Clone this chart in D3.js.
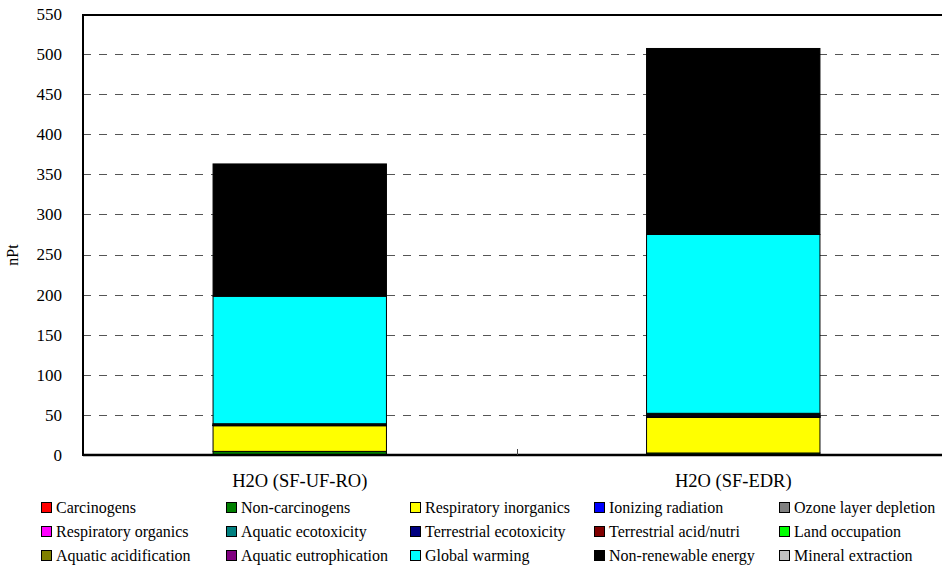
<!DOCTYPE html>
<html>
<head>
<meta charset="utf-8">
<script src="https://cdn.jsdelivr.net/npm/d3@7"></script>
<style>
html,body{margin:0;padding:0;background:#fff;}
svg{display:block;}
svg text{font-family:"Liberation Serif","Times New Roman","DejaVu Serif",serif;}
</style>
</head>
<body>
<svg id="chart" width="942" height="568"></svg>
<script>
const categories = ["H2O (SF-UF-RO)", "H2O (SF-EDR)"];
const seriesNames = ["Carcinogens","Non-carcinogens","Respiratory inorganics","Ionizing radiation","Ozone layer depletion",
  "Respiratory organics","Aquatic ecotoxicity","Terrestrial ecotoxicity","Terrestrial acid/nutri","Land occupation",
  "Aquatic acidification","Aquatic eutrophication","Global warming","Non-renewable energy","Mineral extraction"];
const seriesColors = ["#FF0000","#008000","#FFFF00","#0000FF","#808080",
  "#FF00FF","#008080","#000080","#800000","#00FF00",
  "#808000","#800080","#00FFFF","#000000","#C0C0C0"];
// values per series: [SF-UF-RO, SF-EDR]
const carcinogens = [0.3, 0.5];
const nonCarcinogens = [4.2, 2.0];
const respInorganics = [32, 44.5];
const ionizing = [0.3, 0.4];
const ozone = [0.05, 0.05];
const respOrganics = [0.05, 0.05];
const aquaticEcotox = [0.2, 0.3];
const terrestrialEcotox = [0.8, 2.0];
const terrestrialAcid = [0.6, 1.2];
const landOccupation = [0.5, 1.0];
const aquaticAcid = [0, 0];
const aquaticEutroph = [0, 0];
const globalWarming = [159, 223];
const nonRenewable = [165, 232];
const mineral = [0, 0];
const yTicks = [0,50,100,150,200,250,300,350,400,450,500,550];

const seriesValues = [carcinogens, nonCarcinogens, respInorganics, ionizing, ozone, respOrganics, aquaticEcotox,
  terrestrialEcotox, terrestrialAcid, landOccupation, aquaticAcid, aquaticEutroph, globalWarming, nonRenewable, mineral];

const rows = categories.map((c, i) => {
  const r = {cat: c};
  seriesNames.forEach((s, j) => r[s] = seriesValues[j][i]);
  return r;
});

const FONT = "Liberation Serif, Times New Roman, serif";
const svg = d3.select("#chart");
const mLeft = 83, mTop = 14, mBottom = 455, mRight = 950;

const x = d3.scaleBand().domain(categories).range([mLeft, mRight]).paddingInner(0.6).paddingOuter(0.3);
const y = d3.scaleLinear().domain([0, 550]).range([mBottom, mTop]);

// gridlines
svg.append("g").selectAll("line").data(yTicks.filter(t => t > 0 && t < 550)).join("line")
  .attr("x1", mLeft).attr("x2", 942)
  .attr("y1", d => Math.round(y(d)) + 0.5).attr("y2", d => Math.round(y(d)) + 0.5)
  .attr("stroke", "#555").attr("stroke-width", 1.2).attr("stroke-dasharray", "8,8");

// stacked bars
const stack = d3.stack().keys(seriesNames);
const stacked = stack(rows);
const gBars = svg.append("g");
stacked.forEach((layer, j) => {
  gBars.selectAll(null).data(layer.filter(d => d[1] - d[0] > 0)).join("rect")
    .attr("x", d => x(d.data.cat))
    .attr("width", x.bandwidth())
    .attr("y", d => y(d[1]))
    .attr("height", d => y(d[0]) - y(d[1]))
    .attr("fill", seriesColors[j])
    .attr("stroke", "#000").attr("stroke-width", 1);
});

// frame: top line, left axis, bottom axis
svg.append("line").attr("x1", mLeft).attr("x2", 942).attr("y1", mTop + 1).attr("y2", mTop + 1)
  .attr("stroke", "#000").attr("stroke-width", 2);
svg.append("line").attr("x1", mLeft).attr("x2", mLeft).attr("y1", mTop).attr("y2", mBottom + 1)
  .attr("stroke", "#000").attr("stroke-width", 2);

const xAxis = d3.axisBottom(x).tickSize(0).tickPadding(19);
const gx = svg.append("g").attr("transform", `translate(0,${mBottom})`).call(xAxis);
gx.attr("font-family", FONT);
gx.select(".domain").remove();
gx.selectAll("text").attr("font-family", FONT).attr("font-size", 18.5).attr("fill", "#000");
svg.append("line").attr("x1", mLeft).attr("x2", 942).attr("y1", mBottom).attr("y2", mBottom)
  .attr("stroke", "#000").attr("stroke-width", 2.5);
// category separator tick
const sep = (x(categories[0]) + x.bandwidth() + x(categories[1])) / 2;
svg.append("line").attr("x1", Math.round(sep) + 0.5).attr("x2", Math.round(sep) + 0.5)
  .attr("y1", mBottom - 6).attr("y2", mBottom).attr("stroke", "#444").attr("stroke-width", 1);

// y axis labels
const yAxis = d3.axisLeft(y).tickValues(yTicks).tickSize(0).tickPadding(21);
const gy = svg.append("g").attr("transform", `translate(${mLeft},0)`).call(yAxis);
gy.attr("font-family", FONT);
gy.select(".domain").remove();
gy.selectAll("text").attr("font-family", FONT).attr("font-size", 17).attr("fill", "#000");

svg.append("text").attr("transform", "translate(18,255) rotate(-90)")
  .attr("font-family", FONT)
  .attr("text-anchor", "middle").attr("font-size", 16).text("nPt");

// legend
const colX = [41, 226, 410, 594, 779];
const rowY = [508, 532, 556];
const leg = svg.append("g");
seriesNames.forEach((s, i) => {
  const cx = colX[i % 5], cy = rowY[Math.floor(i / 5)];
  leg.append("rect").attr("x", cx + 0.5).attr("y", cy - 5.5).attr("width", 10).attr("height", 10)
    .attr("fill", seriesColors[i]).attr("stroke", "#000").attr("stroke-width", 1);
  leg.append("text").attr("x", cx + 15).attr("y", cy + 5).attr("font-family", FONT)
    .attr("font-size", 16).text(s);
});
</script>
</body>
</html>
